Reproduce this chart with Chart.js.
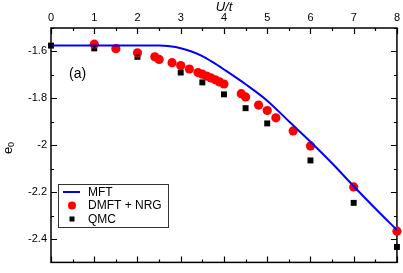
<!DOCTYPE html>
<html>
<head>
<meta charset="utf-8">
<script src="https://cdn.jsdelivr.net/npm/chart.js@4/dist/chart.umd.min.js"></script>
<style>
html,body{margin:0;padding:0;background:#fff;}
#c{display:block;}
</style>
</head>
<body>
<canvas id="c" width="403" height="273"></canvas>
<script>
// ---- data ----
const mftU = [0, 1, 2, 2.5, 2.75, 3.0, 3.25, 3.5, 3.75, 4.0, 4.5, 5.0, 5.5, 6.0, 6.5, 7.0, 7.5, 8.0];
const mftE = [-1.575, -1.575, -1.575, -1.575, -1.578, -1.586, -1.600, -1.620, -1.647, -1.677, -1.740, -1.810, -1.898, -1.985, -2.077, -2.175, -2.270, -2.362];

const nrgU = [1, 1.5, 2, 2.4, 2.5, 2.8, 3.0, 3.2, 3.4, 3.5, 3.6, 3.7, 3.8, 3.9, 4.0, 4.4, 4.5, 4.8, 5.0, 5.2, 5.6, 6.0, 7.0, 8.0];
const nrgE = [-1.569, -1.588, -1.606, -1.623, -1.634, -1.648, -1.660, -1.675, -1.690, -1.697, -1.705, -1.713, -1.721, -1.730, -1.739, -1.780, -1.794, -1.829, -1.852, -1.883, -1.939, -2.003, -2.178, -2.367];

const qmcU = [0, 1, 2, 3, 3.5, 4, 4.5, 5, 6, 7, 8];
const qmcE = [-1.575, -1.587, -1.623, -1.690, -1.732, -1.783, -1.842, -1.907, -2.065, -2.246, -2.434];
const qmcErr = [0.007, 0.007, 0.007, 0.007, 0.007, 0.007, 0.007, 0.007, 0.007, 0.007, 0.007];

const xTicks = [0, 1, 2, 3, 4, 5, 6, 7, 8];
const xMinorTicks = [0.5, 1.5, 2.5, 3.5, 4.5, 5.5, 6.5, 7.5];
const yTicks = [-2.4, -2.2, -2, -1.8, -1.6];
const yMinorTicks = [-2.5, -2.3, -2.1, -1.9, -1.7, -1.5];

const seriesLabels = ['MFT', 'DMFT + NRG', 'QMC'];
const xTitle = 'U/t';
const panelLabel = '(a)';

const FONT = '"Liberation Sans", Arial, Helvetica, sans-serif';

const pts = (xs, ys) => xs.map((x, i) => ({x: x, y: ys[i]}));

const decorPlugin = {
  id: 'decor',
  beforeDatasetsDraw(chart) {
    const ctx = chart.ctx;
    const a = chart.chartArea;
    const xs = chart.scales.x, ys = chart.scales.y;
    ctx.save();
    ctx.strokeStyle = '#000';
    ctx.lineWidth = 1.2;
    ctx.beginPath();
    xTicks.forEach(v => {
      const p = Math.round(xs.getPixelForValue(v)) + 0.5;
      ctx.moveTo(p, a.top); ctx.lineTo(p, a.top + 6);
      ctx.moveTo(p, a.bottom); ctx.lineTo(p, a.bottom - 6);
    });
    xMinorTicks.forEach(v => {
      const p = Math.round(xs.getPixelForValue(v)) + 0.5;
      ctx.moveTo(p, a.top); ctx.lineTo(p, a.top + 3);
      ctx.moveTo(p, a.bottom); ctx.lineTo(p, a.bottom - 3);
    });
    yTicks.forEach(v => {
      const p = Math.round(ys.getPixelForValue(v)) + 0.5;
      ctx.moveTo(a.left, p); ctx.lineTo(a.left + 6, p);
      ctx.moveTo(a.right, p); ctx.lineTo(a.right - 6, p);
    });
    yMinorTicks.forEach(v => {
      const p = Math.round(ys.getPixelForValue(v)) + 0.5;
      ctx.moveTo(a.left, p); ctx.lineTo(a.left + 3, p);
      ctx.moveTo(a.right, p); ctx.lineTo(a.right - 3, p);
    });
    ctx.stroke();
    ctx.lineWidth = 1.5;
    ctx.strokeRect(a.left, a.top, a.right - a.left, a.bottom - a.top);

    // y title e_0 (rotated)
    ctx.fillStyle = '#000';
    ctx.translate(8, 150);
    ctx.rotate(-Math.PI / 2);
    ctx.textBaseline = 'middle';
    ctx.textAlign = 'left';
    ctx.font = '13px ' + FONT;
    ctx.fillText('e', -4, 0);
    ctx.font = '9px ' + FONT;
    ctx.fillText('0', 3, 4);
    ctx.restore();

    ctx.save();
    ctx.fillStyle = '#000';
    ctx.font = '14px ' + FONT;
    ctx.textBaseline = 'middle';
    ctx.textAlign = 'left';
    ctx.fillText(panelLabel, a.left + 18, 74);
    ctx.restore();
  },
  afterDatasetsDraw(chart) {
    const ctx = chart.ctx;
    const xs = chart.scales.x, ys = chart.scales.y;
    ctx.save();
    ctx.strokeStyle = '#000';
    ctx.lineWidth = 1.2;
    ctx.beginPath();
    qmcU.forEach((u, i) => {
      const px = xs.getPixelForValue(u);
      const y1 = ys.getPixelForValue(qmcE[i] - qmcErr[i]);
      const y2 = ys.getPixelForValue(qmcE[i] + qmcErr[i]);
      ctx.moveTo(px, y1); ctx.lineTo(px, y2);
      ctx.moveTo(px - 2, y1); ctx.lineTo(px + 2, y1);
      ctx.moveTo(px - 2, y2); ctx.lineTo(px + 2, y2);
    });
    ctx.stroke();

    const bx = 58, by = 184, bw = 110, bh = 43;
    ctx.fillStyle = '#fff';
    ctx.fillRect(bx, by, bw, bh);
    ctx.strokeStyle = '#333';
    ctx.lineWidth = 1;
    ctx.strokeRect(bx + 0.5, by + 0.5, bw, bh);
    const rows = [192, 205.5, 219];
    const sx = 72;
    ctx.strokeStyle = '#0000ff';
    ctx.lineWidth = 2;
    ctx.beginPath(); ctx.moveTo(63, rows[0]); ctx.lineTo(80, rows[0]); ctx.stroke();
    ctx.fillStyle = '#ff0000';
    ctx.beginPath(); ctx.arc(sx, rows[1], 4, 0, Math.PI * 2); ctx.fill();
    ctx.fillStyle = '#000';
    ctx.fillRect(sx - 2.5, rows[2] - 2.5, 5, 5);
    ctx.font = '12px ' + FONT;
    ctx.textBaseline = 'middle';
    ctx.textAlign = 'left';
    seriesLabels.forEach((t, i) => ctx.fillText(t, 88, rows[i] + 0.5));
    ctx.restore();
  }
};

new Chart(document.getElementById('c'), {
  type: 'scatter',
  data: {
    datasets: [
      {
        label: seriesLabels[0],
        data: pts(mftU, mftE),
        showLine: true,
        borderColor: '#0000ff',
        backgroundColor: '#0000ff',
        borderWidth: 2,
        pointRadius: 0,
        cubicInterpolationMode: 'monotone',
        fill: false
      },
      {
        label: seriesLabels[1],
        data: pts(nrgU, nrgE),
        pointStyle: 'circle',
        pointRadius: 4.6,
        backgroundColor: '#ff0000',
        borderColor: '#ff0000',
        borderWidth: 0,
        clip: false
      },
      {
        label: seriesLabels[2],
        data: pts(qmcU, qmcE),
        pointStyle: 'rect',
        pointRadius: 4.2,
        backgroundColor: '#000',
        borderColor: '#000',
        borderWidth: 0,
        clip: false
      }
    ]
  },
  options: {
    responsive: false,
    animation: false,
    devicePixelRatio: 1,
    layout: {padding: {left: 0, right: 6, top: 0, bottom: 2}},
    plugins: {legend: {display: false}, tooltip: {enabled: false}},
    scales: {
      x: {
        type: 'linear',
        position: 'top',
        min: 0, max: 8,
        grid: {display: false, drawTicks: false},
        border: {display: false},
        afterBuildTicks(s) { s.ticks = xTicks.map(v => ({value: v})); },
        ticks: {
          padding: 3,
          color: '#000',
          font: {family: FONT, size: 11},
          maxRotation: 0,
          callback: v => String(v)
        },
        title: {
          display: true,
          text: xTitle,
          color: '#000',
          font: {family: FONT, size: 13, style: 'italic'},
          padding: {top: 0, bottom: 0}
        },
        afterFit(s) { s.height = 28; }
      },
      y: {
        type: 'linear',
        position: 'left',
        min: -2.5, max: -1.5,
        grid: {display: false, drawTicks: false},
        border: {display: false},
        afterBuildTicks(s) { s.ticks = yTicks.map(v => ({value: v})); },
        ticks: {
          padding: 4,
          color: '#000',
          font: {family: FONT, size: 11},
          callback: v => String(v)
        },
        afterFit(s) { s.width = 51; }
      }
    }
  },
  plugins: [decorPlugin]
});
</script>
</body>
</html>
